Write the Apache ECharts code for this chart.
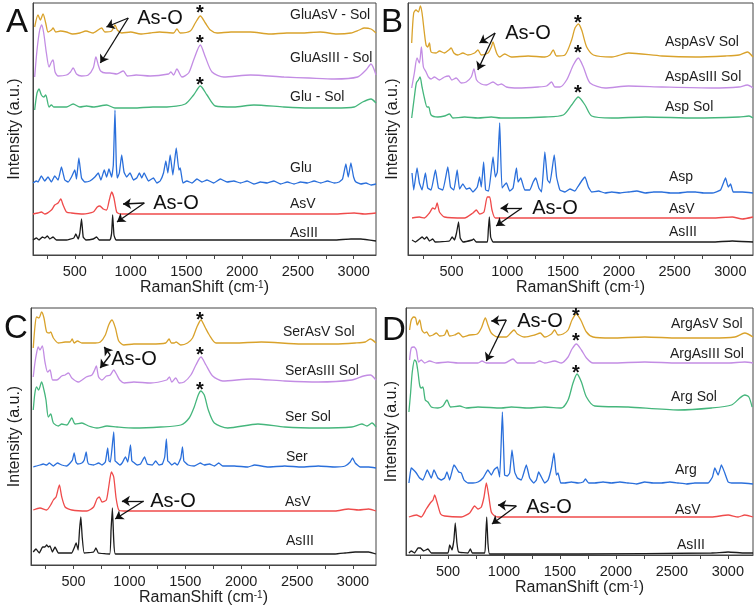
<!DOCTYPE html>
<html><head><meta charset="utf-8">
<script src="https://cdn.jsdelivr.net/npm/echarts@6/dist/echarts.min.js"></script>
<style>html,body{margin:0;padding:0;background:#fff}#c{width:756px;height:611px}</style>
</head><body><div id="c"></div>
<script>
// ---------- tick labels ----------
const xTickLabels = [500, 1000, 1500, 2000, 2500, 3000];
const xTickMarks = [250, 500, 750, 1000, 1250, 1500, 1750, 2000, 2250, 2500, 2750, 3000];

// ---------- Panel A (Glu) ----------
const gluAsVSol = [[140,228],[170,240],[191,235],[215,241],[239,232],[260,223],[290,225],[305,227],[329,223],[370,224],[425,223],[480,221],[545,222],[600,224],[665,222],[740,227],[770,223],[830,224],[860,230],[881,225],[920,222],[1000,223],[1090,221],[1175,222],[1260,223],[1385,222],[1415,226],[1445,222],[1535,224],[1580,232],[1625,239],[1670,232],[1715,225],[1775,222],[1900,223],[2075,223],[2250,221],[2400,222],[2525,222],[2700,223],[2850,221],[2975,222],[3050,225],[3095,227],[3155,226],[3200,222]];
const gluAsIIISol = [[140,178],[161,205],[185,225],[203,230],[221,222],[245,202],[269,188],[290,193],[305,195],[323,183],[350,179],[425,180],[461,183],[485,187],[515,181],[560,179],[620,180],[665,187],[689,198],[710,190],[731,184],[779,182],[815,182],[875,181],[935,184],[971,179],[1050,180],[1175,179],[1340,181],[1361,183],[1385,180],[1415,186],[1460,178],[1520,182],[1565,195],[1625,210],[1670,198],[1730,183],[1835,178],[2075,180],[2375,178],[2600,177],[2825,176],[3035,178],[3110,185],[3155,191],[3200,180]];
const gluSol = [[140,145],[161,162],[179,166],[200,160],[221,158],[239,160],[269,148],[290,150],[311,148],[350,148],[425,148],[485,151],[545,148],[605,149],[665,148],[785,150],[860,147],[1025,147],[1200,148],[1325,148],[1490,151],[1565,160],[1625,169],[1685,160],[1760,149],[1925,148],[2105,150],[2375,148],[2600,147],[2825,147],[3005,148],[3080,153],[3155,156],[3200,152]];
const glu = [[125,72],[155,74],[170,73],[200,79],[230,74],[260,78],[290,73],[320,79],[350,75],[380,88],[410,75],[440,73],[470,78],[500,85],[515,76],[536,97],[560,77],[590,73],[635,74],[680,78],[710,82],[734,75],[764,85],[785,78],[806,86],[830,78],[845,90],[860,145],[872,90],[881,77],[899,82],[920,100],[941,83],[965,78],[995,82],[1025,75],[1055,77],[1079,82],[1100,77],[1121,82],[1160,74],[1205,77],[1235,72],[1265,74],[1295,82],[1316,94],[1334,82],[1355,100],[1379,80],[1409,107],[1433,85],[1445,87],[1469,72],[1505,74],[1550,72],[1595,76],[1640,73],[1685,75],[1745,72],[1805,76],[1865,73],[1925,74],[1985,72],[2045,74],[2105,71],[2165,73],[2225,72],[2285,74],[2345,71],[2405,73],[2465,71],[2525,73],[2585,72],[2645,74],[2705,72],[2765,74],[2825,72],[2870,73],[2900,76],[2930,91],[2951,78],[2975,92],[2999,78],[3020,73],[3065,71],[3110,72],[3155,70],[3200,71]];
const asV_A = [[125,41],[170,42],[200,43],[230,41],[290,45],[320,50],[350,52],[374,56],[395,50],[425,43],[470,42],[575,41],[665,43],[701,48],[725,49],[755,46],[785,45],[809,55],[830,63],[851,57],[875,43],[905,41],[1325,41],[2825,41],[3005,42],[3095,41],[3200,42]];
const asIII_A = [[125,15],[155,17],[179,15],[209,18],[230,17],[254,19],[275,16],[305,18],[335,15],[425,15],[491,17],[509,21],[530,16],[545,22],[560,36],[575,18],[599,15],[665,16],[695,18],[719,15],[815,15],[830,22],[839,40],[851,20],[869,15],[1625,15],[2825,15],[2975,16],[3065,16],[3200,14]];

// ---------- Panel B (Asp) ----------
const aspAsVSol = [[143,212],[161,242],[182,245],[203,243],[221,249],[236,242],[257,222],[272,210],[287,208],[302,212],[317,203],[362,202],[392,204],[437,202],[476,205],[497,207],[521,202],[557,200],[602,202],[647,200],[707,202],[737,205],[767,200],[827,202],[857,208],[872,213],[887,208],[908,201],[932,198],[977,201],[1037,198],[1187,199],[1337,198],[1382,200],[1412,205],[1442,199],[1517,200],[1577,215],[1607,227],[1637,231],[1667,225],[1712,208],[1772,200],[1937,198],[2087,202],[2387,199],[2687,198],[2957,199],[3077,200],[3152,203],[3203,198]];
const aspAsIIISol = [[143,167],[167,182],[191,197],[212,192],[230,208],[248,188],[272,183],[293,178],[317,176],[347,178],[392,175],[437,178],[476,179],[503,175],[542,177],[587,172],[632,173],[677,178],[701,186],[725,175],[767,171],[812,170],[872,173],[917,170],[947,171],[992,168],[1097,167],[1277,168],[1352,169],[1397,173],[1427,168],[1472,168],[1532,175],[1592,190],[1637,197],[1682,188],[1742,172],[1877,167],[2087,169],[2387,168],[2837,167],[3077,168],[3152,170],[3203,167]];
const aspSol = [[143,137],[167,158],[185,172],[203,175],[218,178],[236,168],[257,157],[281,148],[296,148],[317,140],[377,138],[437,139],[482,141],[512,137],[617,138],[737,137],[857,138],[941,137],[1037,137],[1337,138],[1502,140],[1577,150],[1637,158],[1697,150],[1757,139],[1937,137],[2237,138],[2687,137],[3077,138],[3167,139],[3203,137]];
const asp = [[146,82],[161,65],[191,87],[212,72],[236,65],[266,82],[287,67],[317,65],[356,85],[383,67],[422,65],[467,88],[491,68],[521,65],[551,85],[572,66],[602,71],[632,66],[662,67],[692,63],[731,68],[752,78],[767,68],[788,93],[806,65],[833,64],[872,98],[893,78],[911,83],[932,132],[953,67],[992,72],[1022,64],[1052,67],[1082,87],[1097,73],[1121,77],[1157,65],[1202,65],[1232,73],[1256,77],[1283,67],[1307,63],[1337,103],[1361,75],[1382,72],[1421,100],[1442,78],[1472,65],[1517,63],[1562,66],[1607,64],[1631,68],[1673,75],[1697,78],[1727,68],[1757,63],[1817,64],[1877,62],[1937,63],[2012,62],[2087,63],[2162,64],[2237,62],[2312,63],[2387,63],[2462,62],[2537,62],[2612,63],[2687,63],[2762,62],[2837,62],[2912,65],[2957,77],[2981,68],[3002,71],[3026,63],[3107,63],[3203,62]];
const asV_B = [[146,37],[212,38],[257,37],[302,42],[332,47],[353,46],[371,52],[392,43],[437,38],[617,37],[692,42],[722,45],[752,41],[791,43],[821,58],[842,58],[863,45],[893,37],[1337,37],[2837,37],[3017,38],[3107,36],[3203,38]];
const asIII_B = [[146,15],[176,13],[212,16],[236,18],[257,16],[278,18],[302,14],[332,16],[353,13],[482,14],[506,18],[527,15],[545,22],[563,33],[578,17],[602,13],[686,15],[698,16],[722,13],[821,13],[830,25],[839,38],[851,18],[872,13],[1637,13],[2837,13],[3017,14],[3203,13]];

// ---------- Panel C (Ser) ----------
const serAsVSol = [[140,217],[155,238],[170,248],[191,247],[215,253],[236,247],[260,233],[284,232],[296,233],[320,227],[365,222],[425,223],[470,223],[488,226],[506,222],[536,224],[575,222],[635,222],[695,222],[740,223],[785,230],[815,240],[845,245],[875,237],[905,224],[950,220],[1040,221],[1190,221],[1325,222],[1355,226],[1376,222],[1400,222],[1418,223],[1460,220],[1520,222],[1565,227],[1604,238],[1640,245],[1676,238],[1715,230],[1775,222],[1940,222],[2180,223],[2540,221],[2840,221],[3020,222],[3110,223],[3155,226],[3206,222]];
const serAsIIISol = [[140,188],[155,202],[170,212],[185,218],[200,215],[221,219],[245,203],[269,193],[290,195],[314,185],[350,185],[395,189],[425,190],[455,192],[485,187],[545,183],[614,188],[665,190],[689,195],[704,199],[725,188],[755,185],[794,189],[830,190],[860,195],[884,191],[914,185],[956,182],[1040,183],[1190,182],[1334,185],[1358,188],[1379,183],[1415,187],[1445,182],[1490,183],[1550,190],[1595,200],[1640,208],[1685,200],[1745,189],[1835,184],[2090,186],[2390,184],[2690,183],[2990,185],[3095,189],[3155,190],[3206,185]];
const serSol = [[140,155],[155,172],[170,178],[188,175],[215,183],[236,175],[254,165],[275,148],[296,151],[320,142],[365,139],[395,141],[440,140],[485,147],[515,141],[575,142],[635,139],[710,137],[800,139],[890,138],[1040,137],[1280,138],[1460,140],[1535,147],[1580,158],[1616,170],[1640,174],[1670,170],[1706,155],[1760,142],[1880,137],[2150,141],[2390,138],[2690,137],[2990,138],[3080,141],[3125,139],[3170,142],[3206,138]];
const ser = [[140,98],[170,99],[200,100],[230,101],[260,100],[284,102],[320,99],[356,102],[395,100],[440,99],[470,102],[491,105],[506,112],[522,103],[536,101],[575,102],[596,105],[614,113],[625,104],[635,101],[680,100],[725,102],[755,100],[785,103],[806,117],[818,104],[830,103],[860,133],[872,104],[884,103],[914,100],[935,102],[965,108],[986,103],[1010,120],[1022,104],[1034,103],[1070,100],[1100,101],[1136,108],[1160,101],[1205,100],[1235,104],[1265,100],[1295,101],[1316,108],[1331,126],[1343,104],[1355,103],[1379,100],[1406,102],[1430,100],[1460,107],[1475,118],[1487,104],[1496,103],[1526,100],[1580,99],[1634,102],[1670,100],[1715,101],[1760,99],[1799,102],[1835,99],[1940,99],[2060,98],[2120,100],[2240,98],[2390,99],[2540,98],[2690,99],[2840,98],[2930,99],[2975,103],[2996,107],[3020,102],[3065,98],[3140,98],[3206,97]];
const asV_C = [[140,55],[200,57],[260,55],[296,60],[320,65],[344,68],[374,80],[395,68],[425,58],[485,55],[620,54],[680,58],[710,66],[731,68],[755,63],[794,65],[815,78],[839,93],[860,88],[881,67],[905,55],[950,54],[1640,54],[2840,54],[2960,56],[3050,55],[3140,56],[3206,54]];
const asIII_C = [[140,13],[164,16],[194,12],[224,18],[245,18],[260,20],[275,18],[290,19],[311,13],[335,18],[365,12],[485,12],[506,17],[524,22],[542,15],[554,35],[566,48],[578,28],[596,12],[680,13],[701,17],[722,12],[824,11],[836,35],[848,57],[860,25],[875,11],[1640,11],[2840,11],[2930,12],[3020,13],[3140,13],[3206,11]];

// ---------- Panel D (Arg) ----------
const argAsVSol = [[157,225],[172,235],[193,238],[211,237],[226,230],[247,235],[267,225],[291,222],[309,223],[336,219],[366,220],[396,222],[425,219],[470,220],[491,225],[515,219],[559,220],[595,222],[634,218],[694,220],[762,221],[798,227],[834,237],[857,230],[887,222],[941,218],[1021,218],[1060,222],[1090,225],[1120,221],[1185,218],[1275,220],[1325,222],[1364,218],[1424,221],[1453,225],[1483,220],[1528,221],[1573,225],[1608,235],[1647,241],[1686,235],[1737,223],[1796,218],[1960,217],[2258,218],[2556,217],[2854,217],[3063,218],[3152,222],[3225,218]];
const argAsIIISol = [[157,195],[172,207],[196,208],[217,205],[238,193],[261,195],[291,192],[336,194],[396,192],[500,193],[589,192],[768,192],[804,194],[843,192],[1006,192],[1081,196],[1120,192],[1275,192],[1319,194],[1364,192],[1453,194],[1513,192],[1573,198],[1608,206],[1647,211],[1692,205],[1737,197],[1796,192],[1960,192],[2258,193],[2556,192],[2854,192],[3003,192],[3152,193],[3225,192]];
const argSol = [[151,143],[166,162],[181,183],[202,195],[217,193],[232,183],[247,170],[261,167],[276,168],[297,155],[321,153],[351,148],[410,147],[455,149],[491,155],[524,148],[604,149],[664,147],[768,148],[977,147],[1066,148],[1215,147],[1364,148],[1513,147],[1573,155],[1617,172],[1653,181],[1692,173],[1737,158],[1811,149],[2109,148],[2556,145],[2854,147],[3033,150],[3107,157],[3152,160],[3188,158],[3217,148]];
const arg = [[151,72],[163,82],[172,87],[193,85],[217,82],[247,77],[276,75],[315,85],[351,77],[375,85],[410,77],[440,75],[470,77],[491,83],[515,75],[553,90],[574,87],[595,83],[619,82],[643,75],[679,72],[723,72],[768,73],[813,77],[857,85],[887,80],[911,85],[941,88],[962,78],[986,143],[1006,80],[1030,79],[1051,82],[1072,105],[1096,83],[1120,77],[1155,75],[1200,90],[1230,77],[1266,72],[1290,75],[1310,83],[1334,78],[1364,72],[1394,75],[1424,87],[1447,102],[1468,80],[1483,82],[1507,72],[1543,72],[1602,73],[1662,72],[1707,73],[1728,76],[1757,72],[1811,72],[1885,73],[1960,72],[2035,73],[2109,72],[2184,71],[2258,73],[2333,72],[2407,72],[2482,73],[2556,72],[2631,71],[2705,72],[2824,72],[2863,78],[2884,87],[2914,80],[2943,90],[2973,82],[3003,73],[3033,72],[3122,72],[3225,71]];
const asV_D = [[151,38],[217,40],[261,38],[306,46],[342,52],[366,55],[381,60],[404,52],[434,41],[470,39],[619,38],[694,42],[738,49],[768,46],[798,48],[822,58],[843,72],[863,60],[887,43],[917,39],[947,38],[1662,38],[2854,38],[3003,40],[3092,38],[3152,40],[3225,38]];
const asIII_D = [[151,2],[172,4],[202,2],[232,7],[255,7],[282,4],[321,6],[351,2],[500,2],[515,10],[536,5],[553,15],[565,32],[580,12],[595,3],[679,2],[700,6],[717,2],[828,2],[837,18],[846,38],[857,12],[872,1],[1662,1],[2854,2],[3003,3],[3152,2],[3225,2]];

// ---------- labels ----------
const namesA = ['GluAsV - Sol', 'GluAsIII - Sol', 'Glu - Sol', 'Glu', 'AsV', 'AsIII'];
const namesB = ['AspAsV Sol', 'AspAsIII Sol', 'Asp Sol', 'Asp', 'AsV', 'AsIII'];
const namesC = ['SerAsV Sol', 'SerAsIII Sol', 'Ser Sol', 'Ser', 'AsV', 'AsIII'];
const namesD = ['ArgAsV Sol', 'ArgAsIII Sol', 'Arg Sol', 'Arg', 'AsV', 'AsIII'];

const FONT = '"Liberation Sans", Arial, Helvetica, sans-serif';
const COLORS = ['#D9A22B', '#C38DE4', '#45B67C', '#2A6FDB', '#EF4B4B', '#1c1c1c'];
const SMOOTH = [0.25, 0.25, 0.25, 0.12, 0.2, 0.1];
const TXT = '#1e1e1e';

const panels = [
  { grid:{left:33, top:3, width:343, height:252}, xmin:125, xmax:3200, ymax:252, yGap:10,
    data:[gluAsVSol, gluAsIIISol, gluSol, glu, asV_A, asIII_A], names:namesA,
    labelPos:[[290,15.5],[290,58],[290,97],[290,168],[290,204],[290,233]],
    letter:['A',17,23], stars:[[200,9],[200,39],[200,81]],
    asoText:[[160,18.5],[176,203.5]],
    arrows:[[[979,237],[783,228]],[[979,237],[729,192]],[[1123,52],[932,51]],[[1123,52],[878,33]]] },
  { grid:{left:408, top:3, width:345, height:252}, xmin:110, xmax:3203, ymax:252, yGap:7,
    data:[aspAsVSol, aspAsIIISol, aspSol, asp, asV_B, asIII_B], names:namesB,
    labelPos:[[665,42],[665,77.5],[665,107.5],[669,177],[669,209],[669,232.5]],
    letter:['B',392,23], stars:[[578,19],[578,49],[578,89]],
    asoText:[[528,33.5],[555,208.5]],
    arrows:[[[891,222],[751,212]],[[891,222],[736,185]],[[1131,47],[940,47]],[[1131,47],[900,29]]] },
  { grid:{left:31, top:308, width:345, height:257}, xmin:120, xmax:3206, ymax:257, yGap:8,
    data:[serAsVSol, serAsIIISol, serSol, ser, asV_C, asIII_C], names:namesC,
    labelPos:[[283,332],[285,371],[285,417.5],[286,457],[285,502],[286,541]],
    letter:['C',16,329], stars:[[200,316],[200,351],[200,386]],
    asoText:[[134,359.5],[173,501]],
    arrows:[[[829,210],[775,218]],[[829,210],[739,197]],[[1127,64],[933,64]],[[1127,64],[873,46]]] },
  { grid:{left:406, top:308, width:347, height:247}, xmin:125, xmax:3225, ymax:247, yGap:6,
    data:[argAsVSol, argAsIIISol, argSol, arg, asV_D, asIII_D], names:namesD,
    labelPos:[[671,324],[670,354],[671,397.5],[675,470.5],[675,510],[677,545]],
    letter:['D',394,331], stars:[[576,312.5],[576,337.5],[576,369]],
    asoText:[[540,321],[549,507]],
    arrows:[[[1021,235],[887,234]],[[1021,235],[842,194]],[[1111,49],[947,50]],[[1111,49],[893,31]]] }
];

const grids = [], xAxes = [], yAxes = [], series = [], graphics = [];
panels.forEach((p, i) => {
  grids.push(Object.assign({show:true, borderColor:'#444', borderWidth:1, backgroundColor:'transparent'}, p.grid));
  xAxes.push({
    gridIndex:i, type:'value', min:p.xmin, max:p.xmax,
    axisLine:{show:true, lineStyle:{color:'#444', width:1}},
    axisTick:{show:true, inside:false, length:4, customValues:xTickMarks, lineStyle:{color:'#444', width:1}},
    axisLabel:{show:true, customValues:xTickLabels, formatter:v => String(v), margin:9, fontSize:14.5, color:TXT, fontFamily:FONT},
    splitLine:{show:false},
    name:'{a|RamanShift (cm}{s|-1}{a|)}', nameLocation:'middle', nameGap:25,
    nameTextStyle:{rich:{a:{fontSize:16, fontFamily:FONT, color:TXT}, s:{fontSize:10, fontFamily:FONT, color:TXT, verticalAlign:'top', padding:[0,0,6,0]}}}
  });
  yAxes.push({
    gridIndex:i, type:'value', min:0, max:p.ymax,
    axisLine:{show:true, lineStyle:{color:'#444', width:1}},
    axisTick:{show:false}, axisLabel:{show:false}, splitLine:{show:false},
    name:'Intensity (a.u.)', nameLocation:'middle', nameGap:p.yGap,
    nameTextStyle:{fontSize:16, fontFamily:FONT, color:TXT}
  });
  p.data.forEach((d, k) => {
    const s = {
      type:'line', xAxisIndex:i, yAxisIndex:i, data:d, name:p.names[k],
      showSymbol:false, symbol:'none', animation:false, silent:true, smooth:SMOOTH[k],
      lineStyle:{color:COLORS[k], width:1.3}, itemStyle:{color:COLORS[k]}, z:2
    };
    if (k === 0) {
      s.markLine = {
        silent:true, animation:false, symbol:['none','arrow'], symbolSize:8,
        label:{show:false}, lineStyle:{color:'#111', width:1.3, type:'solid'},
        data:p.arrows.map(a => [{coord:a[0]}, {coord:a[1]}])
      };
    }
    series.push(s);
  });
  p.names.forEach((n, k) => {
    graphics.push({type:'text', x:p.labelPos[k][0], y:p.labelPos[k][1], z:10,
      style:{text:n, fontSize:14, fontFamily:FONT, fill:TXT, align:'left', verticalAlign:'middle'}});
  });
  graphics.push({type:'text', x:p.letter[1], y:p.letter[2], z:10,
    style:{text:p.letter[0], fontSize:33, fontFamily:FONT, fill:'#111', align:'center', verticalAlign:'middle'}});
  p.stars.forEach(st => graphics.push({type:'text', x:st[0], y:st[1] + 4, z:10,
    style:{text:'*', fontSize:20, fontWeight:'bold', fontFamily:FONT, fill:'#111', align:'center', verticalAlign:'middle'}}));
  p.asoText.forEach(t => graphics.push({type:'text', x:t[0], y:t[1], z:10,
    style:{text:'As-O', fontSize:20, fontFamily:FONT, fill:'#111', align:'center', verticalAlign:'middle'}}));
});

const chart = echarts.init(document.getElementById('c'), null, {renderer:'canvas'});
chart.setOption({
  backgroundColor:'#ffffff', animation:false,
  grid:grids, xAxis:xAxes, yAxis:yAxes, series:series, graphic:graphics
});
</script></body></html>
